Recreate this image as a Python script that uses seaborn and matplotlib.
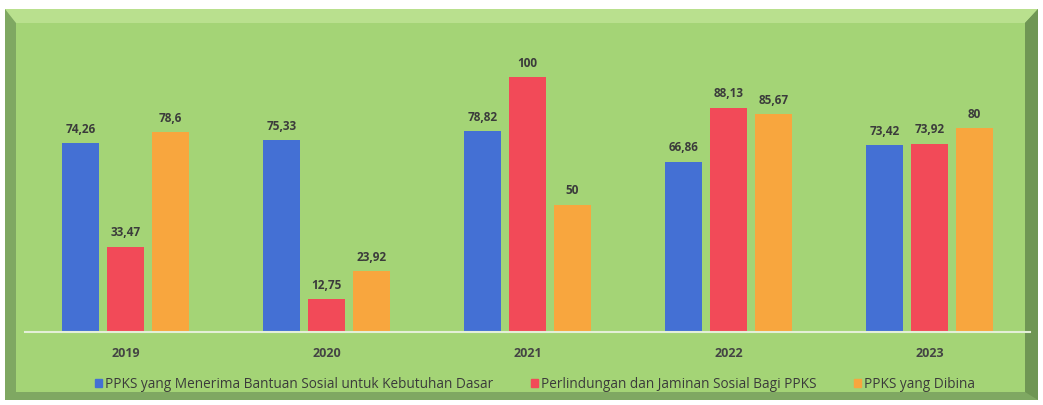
import pandas as pd
import matplotlib.pyplot as plt
import matplotlib.patches as mpatches
import seaborn as sns

# --- Dados ---
tahun = ['2019', '2020', '2021', '2022', '2023']
bantuan_sosial = [74.26, 75.33, 78.82, 66.86, 73.42]
perlindungan = [33.47, 12.75, 100, 88.13, 73.92]
dibina = [78.6, 23.92, 50, 85.67, 80]

seri = [
    'PPKS yang Menerima Bantuan Sosial untuk Kebutuhan Dasar',
    'Perlindungan dan Jaminan Sosial Bagi PPKS',
    'PPKS yang Dibina',
]
warna = ['#4470d4', '#f24a58', '#f8a63e']


def fmt_angka(v):
    # format Indonesia: koma sebagai desimal
    s = f'{v:.2f}'.rstrip('0').rstrip('.')
    return s.replace('.', ',')


df = pd.DataFrame({
    'Tahun': tahun * 3,
    'Nilai': bantuan_sosial + perlindungan + dibina,
    'Seri': [seri[0]] * 5 + [seri[1]] * 5 + [seri[2]] * 5,
})

sns.set_theme(style='white')
plt.rcParams['font.family'] = ['Open Sans', 'DejaVu Sans']

fig = plt.figure(figsize=(10.43, 4.06), dpi=100)
fig.patch.set_facecolor('white')

# panel hijau dengan efek bevel
W, H = 1043, 406
def px(x, y):
    return (x / W, 1 - y / H)

def poligon(pts, warna_isi):
    p = mpatches.Polygon([px(*q) for q in pts], closed=True,
                         transform=fig.transFigure, facecolor=warna_isi,
                         edgecolor='none', zorder=-5)
    fig.patches.append(p)

poligon([(5, 10), (1038, 10), (1038, 401), (5, 401)], '#7fa862')
poligon([(5, 10), (1038, 10), (1025, 24), (16, 24)], '#b9e08e')
poligon([(1038, 10), (1038, 401), (1025, 393), (1025, 24)], '#6f9654')
poligon([(16, 24), (1025, 24), (1025, 393), (16, 393)], '#a4d476')

ax = fig.add_axes([0.024, 0.18, 0.9635, 0.721])
ax.set_facecolor('none')
ax.set_zorder(2)

sns.barplot(data=df, x='Tahun', y='Nilai', hue='Seri', hue_order=seri,
            palette=warna, width=0.672, gap=0.18, saturation=1,
            linewidth=0, ax=ax, legend=False)

label_seri = [bantuan_sosial, perlindungan, dibina]
for cont, vals in zip(ax.containers, label_seri):
    ax.bar_label(cont, labels=[fmt_angka(v) for v in vals], padding=6,
                 fontsize=8.5, fontweight='bold', color='#3b3b3b')

ax.set_xlim(-0.5, 4.5)
ax.set_ylim(0, 115)
ax.set_yticks([])
ax.set_xlabel('')
ax.set_ylabel('')
for s in ['top', 'left', 'right']:
    ax.spines[s].set_visible(False)
ax.spines['bottom'].set_color('#e4efd8')
ax.spines['bottom'].set_linewidth(1.5)
ax.tick_params(axis='x', length=0, pad=10)
for t in ax.get_xticklabels():
    t.set_fontsize(9)
    t.set_fontweight('bold')
    t.set_color('#444444')

handles = [mpatches.Patch(color=c, label=l) for c, l in zip(warna, seri)]
leg = fig.legend(handles=handles, loc='center', bbox_to_anchor=(0.513, 1 - 385 / H),
                 ncol=3, frameon=False, fontsize=9.8, handlelength=0.5,
                 handleheight=0.5, handletextpad=0.2, columnspacing=2.8,
                 labelcolor='#3b3b3b')
leg.set_zorder(3)

fig.savefig('out.png', dpi=100)
